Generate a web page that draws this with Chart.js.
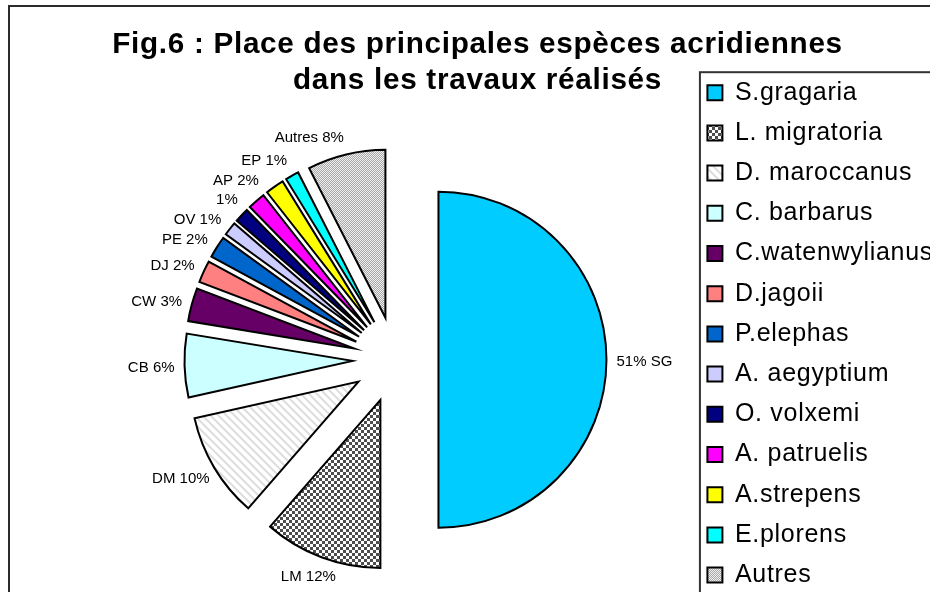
<!DOCTYPE html>
<html>
<head>
<meta charset="utf-8">
<script src="https://cdn.jsdelivr.net/npm/chart.js@4/dist/chart.umd.min.js"></script>
<style>
  html, body { margin: 0; padding: 0; background: #fff; overflow: hidden; width: 930px; height: 592px; }
  #frame { position: absolute; left: 8px; top: 5px; width: 980px; height: 660px; border: 2px solid #2b2b2b; background: #fff; }
  #c { position: absolute; left: 0; top: 0; }
</style>
</head>
<body>
<div id="frame"><canvas id="c" width="939" height="614"></canvas></div>
<script>
// ---- data ----
const categories = ['S.gragaria', 'L. migratoria', 'D. maroccanus', 'C. barbarus', 'C.watenwylianus',
  'D.jagoii', 'P.elephas', 'A. aegyptium', 'O. volxemi', 'A. patruelis', 'A.strepens', 'E.plorens', 'Autres'];
const shares = [50.0, 11.4, 10.1, 6.1, 3.2, 2.1, 2.1, 1.3, 1.4, 1.7, 1.8, 1.3, 7.5];
const sliceLabels = ['51% SG', 'LM 12%', 'DM 10%', 'CB 6%', 'CW 3%', 'DJ 2%', 'PE 2%', '',
  'OV 1%', '1%', 'AP 2%', 'EP 1%', 'Autres 8%'];
const titleLines = ['Fig.6 : Place des principales espèces acridiennes', 'dans les travaux réalisés'];

// ---- styles ----
const FONT = '"Liberation Sans", Arial, sans-serif';
const RADIUS = 168;
const EXPLODE = 43;          // distance each slice is pulled out along its bisector
const LABEL_GAP = 10;
const LABEL_PITCH = 19;
const LETTER_SPACING = '0.7px';

function makePattern(size, draw) {
  const c = document.createElement('canvas');
  c.width = c.height = size;
  const g = c.getContext('2d');
  draw(g, size);
  return g.createPattern(c, 'repeat');
}
const checker = makePattern(6, g => {
  g.fillStyle = '#fff'; g.fillRect(0, 0, 6, 6);
  g.fillStyle = '#4d4d4d'; g.fillRect(0, 0, 3, 3); g.fillRect(3, 3, 3, 3);
});
const hatch = makePattern(8, g => {
  g.fillStyle = '#fff'; g.fillRect(0, 0, 8, 8);
  g.strokeStyle = '#dedede'; g.lineWidth = 2;
  g.beginPath();
  g.moveTo(-2, -2); g.lineTo(10, 10);
  g.moveTo(-2, 6); g.lineTo(2, 10);
  g.moveTo(6, -2); g.lineTo(10, 2);
  g.stroke();
});
const dots = makePattern(2, g => {
  g.fillStyle = '#efefef'; g.fillRect(0, 0, 2, 2);
  g.fillStyle = '#a8a8a8'; g.fillRect(0, 0, 1, 1); g.fillRect(1, 1, 1, 1);
});
const sliceColors = ['#00CCFF', checker, hatch, '#CCFFFF', '#660066', '#FF8080', '#0066CC',
  '#CCCCFF', '#000080', '#FF00FF', '#FFFF00', '#00FFFF', dots];

// ---- plugins ----
const letterSpacingPlugin = {
  id: 'letterSpacing',
  beforeLayout(chart) { chart.ctx.letterSpacing = LETTER_SPACING; },
  beforeDraw(chart) { chart.ctx.letterSpacing = LETTER_SPACING; },
  beforeDatasetsDraw(chart) { chart.ctx.letterSpacing = '0px'; }
};

// pull every slice out along its own bisector (exploded pie)
const explodePlugin = {
  id: 'explode',
  afterDatasetUpdate(chart, args) {
    args.meta.data.forEach(arc => {
      const mid = (arc.startAngle + arc.endAngle) / 2;
      arc.x += Math.cos(mid) * EXPLODE;
      arc.y += Math.sin(mid) * EXPLODE;
    });
  }
};

const sliceLabelPlugin = {
  id: 'sliceLabels',
  afterDatasetsDraw(chart) {
    const ctx = chart.ctx;
    const meta = chart.getDatasetMeta(0);
    ctx.save();
    ctx.letterSpacing = '0px';
    ctx.font = '15px ' + FONT;
    ctx.fillStyle = '#000';
    ctx.textBaseline = 'middle';
    ctx.textAlign = 'center';
    const items = [];
    meta.data.forEach((arc, i) => {
      const txt = sliceLabels[i];
      if (!txt) return;
      const mid = (arc.startAngle + arc.endAngle) / 2;
      const dx = Math.cos(mid), dy = Math.sin(mid);
      const r = arc.outerRadius + LABEL_GAP;
      items.push({txt, cx: arc.x, cy: arc.y, r, dx, dy, w: ctx.measureText(txt).width, ay: arc.y + dy * r});
    });
    const left = items.filter(it => it.dx < 0).sort((a, b) => a.ay - b.ay);
    for (let k = 1; k < left.length; k++) {
      const min = left[k - 1].ay + LABEL_PITCH;
      if (left[k].ay < min) left[k].ay = min;
    }
    items.forEach(it => {
      const off = it.ay - it.cy;
      const sgn = it.dx < 0 ? -1 : 1;
      const ax = Math.abs(off) < it.r ? it.cx + sgn * Math.sqrt(it.r * it.r - off * off) : it.cx + it.dx * it.r;
      const t = it.dy < 0 ? sgn : it.dx;
      ctx.fillText(it.txt, ax + t * it.w / 2, it.ay + it.dy * 9 + 2);
    });
    ctx.restore();
  }
};

const legendFrame = {
  id: 'legendFrame',
  afterDraw(chart) {
    const hb = chart.legend && chart.legend.legendHitBoxes && chart.legend.legendHitBoxes[0];
    if (!hb) return;
    const ctx = chart.ctx;
    ctx.save();
    ctx.strokeStyle = '#333';
    ctx.lineWidth = 2;
    ctx.strokeRect(hb.left - 7.5, hb.top - 8, chart.width, chart.height);
    ctx.restore();
  }
};

new Chart(document.getElementById('c'), {
  type: 'pie',
  data: {
    labels: categories,
    datasets: [{
      data: shares,
      backgroundColor: sliceColors,
      borderColor: '#000',
      borderWidth: 2,
      borderJoinStyle: 'miter'
    }]
  },
  options: {
    responsive: false,
    devicePixelRatio: 1,
    animation: false,
    events: [],
    radius: RADIUS,
    layout: { padding: { left: 2, right: 6, top: 0, bottom: 0 } },
    plugins: {
      tooltip: { enabled: false },
      title: {
        display: true,
        text: titleLines,
        color: '#000',
        font: { family: FONT, size: 29.7, weight: 'bold', lineHeight: 1.2 },
        padding: { top: 20, bottom: 0 }
      },
      subtitle: {
        display: true,
        text: '',
        position: 'left',
        font: { size: 1 },
        padding: { top: 85.5, bottom: 0 }
      },
      legend: {
        position: 'right',
        align: 'start',
        maxWidth: 320,
        title: { display: true, text: '', font: { size: 10 }, padding: { top: 46, bottom: 0 } },
        labels: {
          boxWidth: 15,
          boxHeight: 15,
          padding: 15.2,
          color: '#000',
          font: { family: FONT, size: 25 }
        }
      }
    }
  },
  plugins: [letterSpacingPlugin, explodePlugin, sliceLabelPlugin, legendFrame]
});
</script>
</body>
</html>
